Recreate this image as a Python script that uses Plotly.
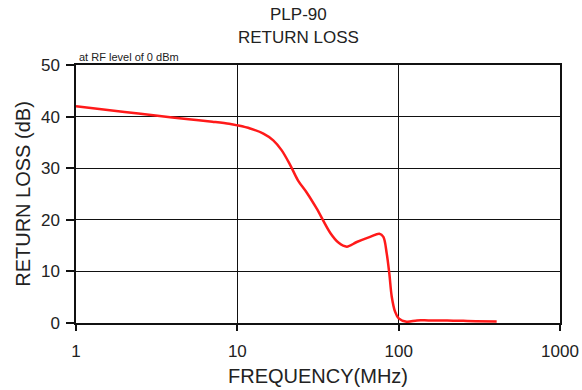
import plotly.graph_objects as go

freq_mhz = [1, 2, 3.3, 5, 7, 8.9, 10, 12.0, 14.5, 16.7, 18.8, 21.2, 23.8, 26.9,
            31.0, 37.6, 42.3, 47.7, 55, 66.5, 75.9, 80.4, 84.3, 87.5, 90.6, 95,
            100, 112, 130, 153, 200, 300, 405]
return_loss_db = [42.0, 40.9, 40.1, 39.5, 39.0, 38.6, 38.3, 37.7, 36.7, 35.4, 33.5, 30.7,
                  27.6, 25.3, 22.2, 17.5, 15.6, 14.8, 15.7, 16.7, 17.3, 16.7,
                  13.5, 9.6, 5.1, 2.2, 0.9, 0.25, 0.5, 0.5, 0.5, 0.35, 0.3]

x_tickvals = [1, 10, 100, 1000]
x_ticktext = ["1", "10", "100", "1000"]
y_tickvals = [0, 10, 20, 30, 40, 50]
title_lines = ["PLP-90", "RETURN LOSS"]

font_family = "Liberation Sans, Arial, sans-serif"
txt_color = "#222222"

fig = go.Figure()
fig.add_trace(go.Scatter(
    x=freq_mhz, y=return_loss_db, mode="lines",
    line=dict(color="#ff1a1a", width=2.5, shape="spline", smoothing=0.9),
    hoverinfo="skip", showlegend=False,
))

annos = [
    dict(text=title_lines[0], xref="paper", yref="paper", x=0.46, y=1.194,
         xanchor="center", yanchor="middle", showarrow=False,
         font=dict(family=font_family, size=17, color=txt_color)),
    dict(text=title_lines[1], xref="paper", yref="paper", x=0.46, y=1.105,
         xanchor="center", yanchor="middle", showarrow=False,
         font=dict(family=font_family, size=17, color=txt_color)),
    dict(text="at RF level of 0 dBm", xref="paper", yref="paper",
         x=0.003, y=1, xanchor="left", yanchor="bottom",
         showarrow=False, font=dict(family=font_family, size=11, color=txt_color)),
]

fig.update_layout(
    width=582, height=390,
    margin=dict(l=76, r=22, t=65, b=67),
    paper_bgcolor="white", plot_bgcolor="white",
    font=dict(family=font_family, size=17, color=txt_color),
    annotations=annos,
)

fig.update_xaxes(
    type="log", range=[0, 3], automargin=False,
    tickvals=x_tickvals, ticktext=x_ticktext,
    showgrid=True, gridcolor="#111111", gridwidth=1.2,
    showline=True, linecolor="#111111", linewidth=1.5, mirror=True,
    ticks="outside", ticklen=6, tickcolor="#111111", tickwidth=1.5,
    ticklabelstandoff=6,
    title=dict(text="FREQUENCY(MHz)", standoff=9),
    zeroline=False,
)
fig.update_yaxes(
    range=[0, 50], tickvals=y_tickvals, automargin=False,
    showgrid=True, gridcolor="#111111", gridwidth=1.2,
    showline=True, linecolor="#111111", linewidth=1.5, mirror=True,
    ticks="outside", ticklen=8, tickcolor="#111111", tickwidth=1.5,
    ticklabelstandoff=3,
    title=dict(text="RETURN LOSS (dB)", standoff=5),
    zeroline=False,
)

fig.write_html("out.html")
